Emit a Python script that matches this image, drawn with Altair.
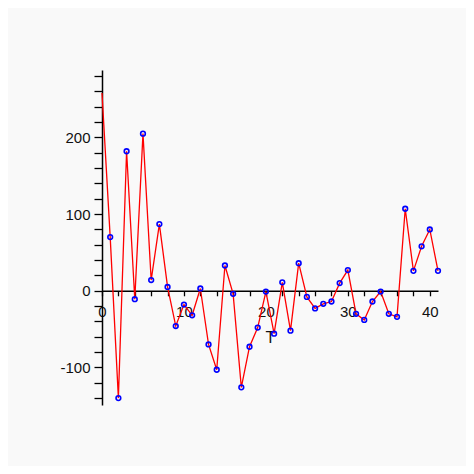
import altair as alt
import pandas as pd

# Data
t_values = list(range(42))
y_values = [258, 70, -140, 182, -11, 205, 14, 87, 5, -46, -18, -32, 3, -70,
            -103, 33, -4, -126, -73, -48, -1, -56, 11, -52, 36, -8, -23, -17,
            -14, 10, 27, -30, -38, -14, -1, -30, -34, 107, 26, 58, 80, 26]

x_ticks = list(range(0, 42, 2))
y_ticks = list(range(-140, 281, 20))

df = pd.DataFrame({"T": t_values, "Y": y_values})

Y_MIN, Y_MAX = -149, 288
W, H = 336, 335
x_axis_offset = -H * (0 - Y_MIN) / (Y_MAX - Y_MIN)

FONT = "Liberation Sans"

x_enc = alt.X(
    "T:Q",
    scale=alt.Scale(domain=[0, 41], nice=False, zero=False),
    axis=alt.Axis(
        values=x_ticks,
        tickCount=200,
        labelExpr="datum.value % 10 == 0 ? '' + datum.value : ''",
        offset=x_axis_offset,
        grid=False,
        tickSize=5,
        labelPadding=9,
        labelFlush=False,
        labelOverlap=False,
        title="T",
        titleFontWeight="normal",
        titleFontSize=16,
        titleBaseline="top",
        titleY=39,
    ),
)
y_enc = alt.Y(
    "Y:Q",
    scale=alt.Scale(domain=[Y_MIN, Y_MAX], nice=False, zero=False),
    axis=alt.Axis(
        values=y_ticks,
        tickCount=200,
        labelExpr="datum.value % 100 == 0 ? '' + datum.value : ''",
        grid=False,
        tickSize=8,
        labelPadding=4,
        labelFlush=False,
        labelOverlap=False,
        title=None,
    ),
)

line = alt.Chart(df).mark_line(color="#ff0000", strokeWidth=1.3).encode(x=x_enc, y=y_enc)
points = alt.Chart(df).transform_filter("datum.T > 0").mark_point(
    shape="circle", filled=False, color="#0000ff", size=22, strokeWidth=1.6, opacity=1
).encode(x="T:Q", y="Y:Q")

chart = (
    alt.layer(line, points)
    .properties(
        width=W,
        height=H,
        autosize=alt.AutoSizeParams(type="none"),
        padding={"left": 94, "top": 62, "right": 28, "bottom": 61},
        background="#f9f9f9",
    )
    .configure_view(stroke=None)
    .configure_axis(
        domainColor="#000000",
        domainWidth=1.5,
        tickColor="#000000",
        tickWidth=1.3,
        labelFont=FONT,
        labelFontSize=15,
        labelColor="#111111",
        titleFont=FONT,
        titleColor="#111111",
    )
)

chart.save("out.html", embed_options={"renderer": "svg", "actions": False})
